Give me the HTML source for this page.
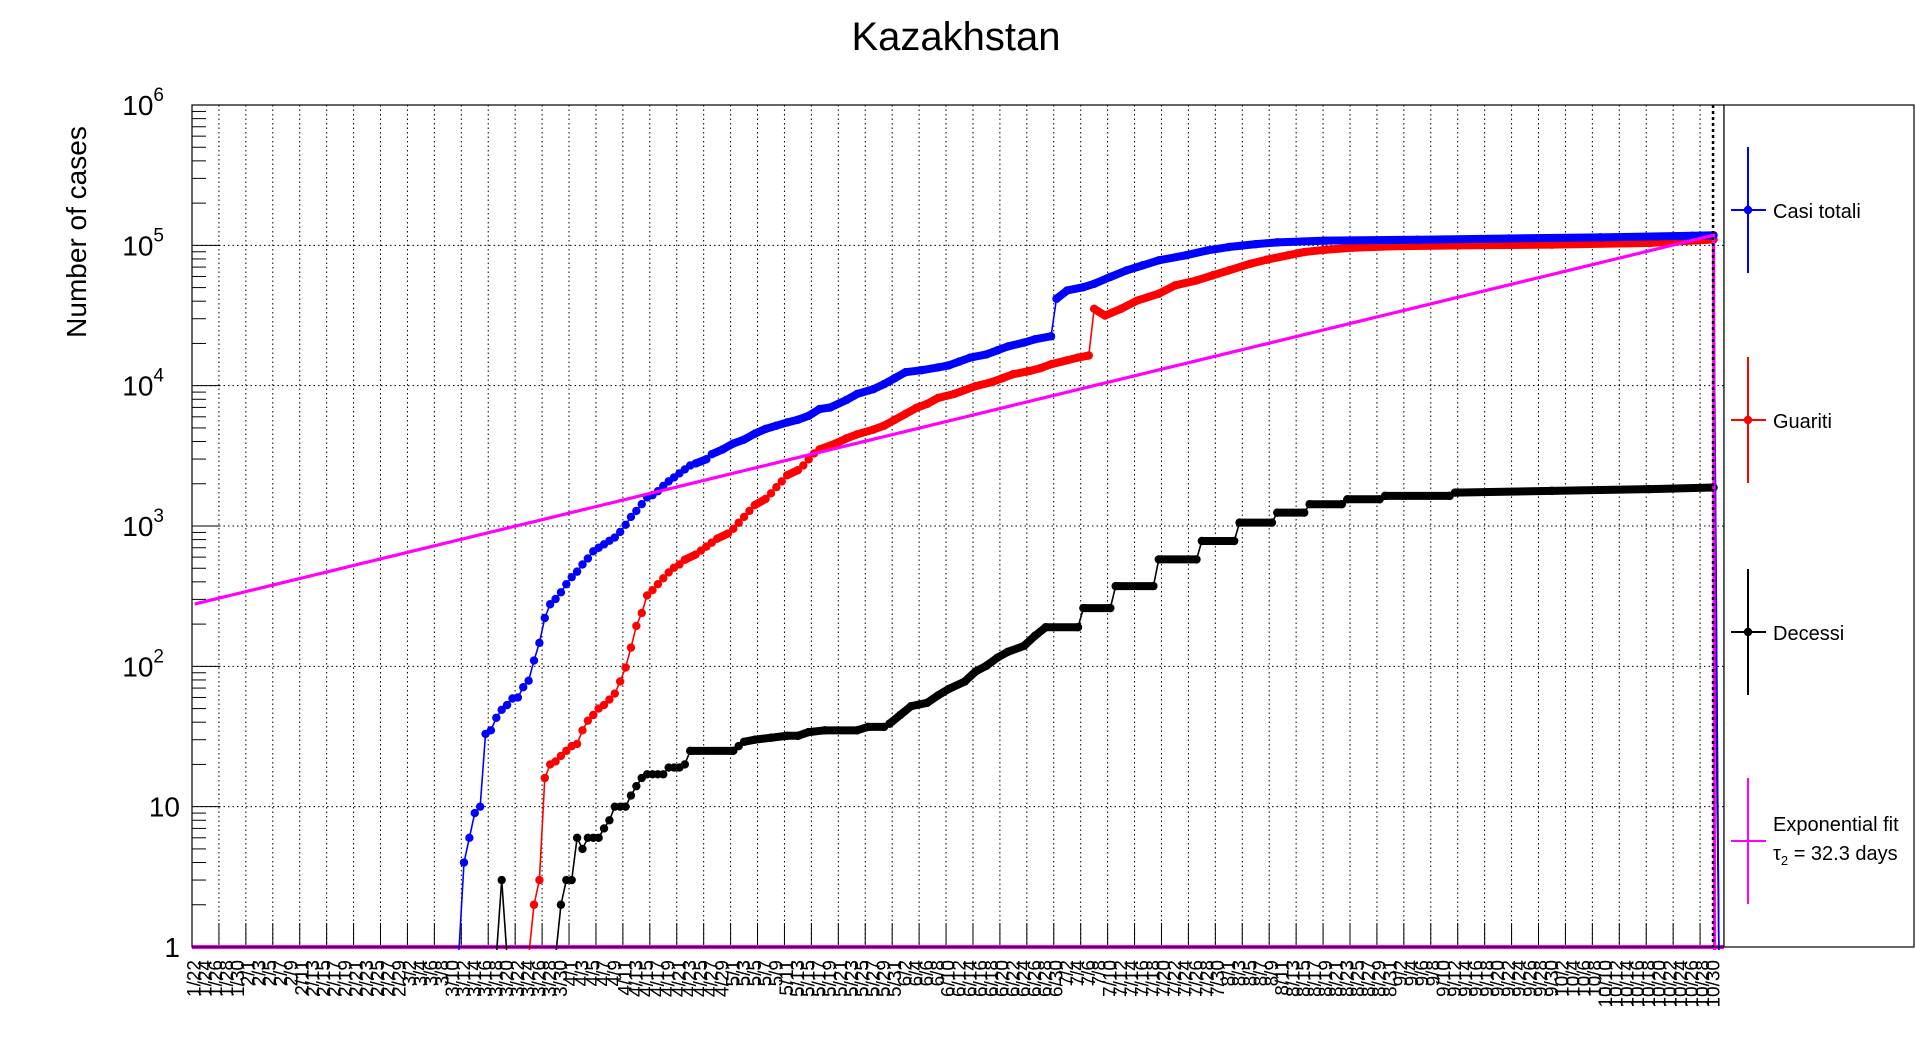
<!DOCTYPE html>
<html><head><meta charset="utf-8"><title>Kazakhstan</title>
<style>
html,body{margin:0;padding:0;background:#fff;}
svg{display:block;font-family:"Liberation Sans",Arial,sans-serif;}
</style></head>
<body>
<svg id="chart" width="1916" height="1052" viewBox="0 0 1916 1052" xmlns="http://www.w3.org/2000/svg">
  <rect x="0" y="0" width="1916" height="1052" fill="#fff"/>
  <text x="956" y="50" text-anchor="middle" font-size="40">Kazakhstan</text>
  <text transform="translate(86,232) rotate(-90)" text-anchor="middle" font-size="28">Number of cases</text>
  <defs><clipPath id="plotclip"><rect x="192" y="105" width="1532" height="845"/></clipPath></defs>
  <g id="grid"></g>
  <g id="axes"></g>
  <g id="series" clip-path="url(#plotclip)"></g>
  <rect x="192" y="105" width="1532" height="842" fill="none" stroke="#000" stroke-width="1.2"/>
  <g id="legend">
    <rect x="1724" y="105" width="190" height="842" fill="#fff" stroke="#000" stroke-width="1.2"/>
  </g>
</svg>
<script>
// ---- data ----
const blueDays=[49,50,51,52,53,54,55,56,57,58,59,60,61,62,63,64,65,66,67,68,69,70,71,72,73,74,75,76,77,78,79,80,81,82,83,84,85,86,87,88,89,90,91,92,93,95,96,98,100,102,104,106,108,110,112,114,116,118,121,123,126,128,130,132,135,138,140,142,144,147,149,151,154,156,159,160,162,165,167,170,173,176,179,184,188,192,197,201,210,227,244,261,278,282,283];
const blueVals=[0,4,6,9,10,33,35,43,49,53,59,60,71,79,110,147,221,277,302,337,385,432,473,532,587,660,700,740,785,828,908,1020,1160,1280,1430,1600,1660,1770,1930,2080,2220,2370,2530,2700,2790,2990,3250,3510,3870,4130,4550,4920,5190,5470,5720,6100,6810,6990,7910,8730,9440,10260,11320,12480,12900,13500,13950,14870,15860,16710,17830,19040,20300,21390,22500,41600,47700,50300,53200,59500,66300,72000,78200,84900,92000,97300,102000,105000,108000,109700,112000,114000,117000,118000,0];
const redDays=[62,63,64,65,66,67,68,69,70,71,72,73,74,75,76,77,78,79,80,81,82,83,84,85,86,87,88,89,90,91,93,94,95,96,97,99,100,101,102,103,104,106,107,108,109,110,112,113,114,115,116,119,121,123,126,128,130,132,134,136,138,141,143,145,148,150,152,155,157,159,162,164,166,167,169,172,175,179,182,186,189,192,196,199,203,206,210,215,222,235,252,270,279,282,283];
const redVals=[0,2,3,16,20,21,23,25,27,28,35,41,45,50,53,58,64,78,98,136,194,240,320,349,385,424,467,505,532,575,626,668,713,761,812,884,955,1055,1160,1280,1410,1560,1710,1890,2080,2300,2500,2700,2980,3290,3510,3870,4210,4500,4860,5190,5720,6300,6950,7420,8170,8730,9310,9930,10600,11320,12080,12730,13300,14200,15170,15860,16400,35300,31600,35300,40400,45200,51800,56200,61100,66300,74000,79000,84900,89600,93100,96200,98400,100000,101100,103900,108500,110000,0];
const blackDays=[56,57,58,67,68,69,70,71,72,73,74,75,76,77,78,79,80,81,82,83,84,85,86,87,88,89,90,91,92,100,101,102,104,107,110,112,114,117,123,125,128,129,131,133,136,138,140,143,145,147,149,151,154,156,158,164,165,170,171,178,179,186,187,193,194,200,201,206,207,213,214,220,221,233,234,252,270,282,283];
const blackVals=[0,3,0,0,2,3,3,6,5,6,6,6,7,8,10,10,10,12,14,16,17,17,17,17,19,19,19,20,25,25,27,29,30,31,32,32,34,35,35,37,37,39,45,52,55,62,69,78,92,101,115,127,140,165,190,190,260,260,373,373,578,578,782,782,1057,1057,1245,1245,1430,1430,1550,1550,1640,1640,1730,1780,1830,1880,0];
const fitA=[278];
const fitTau=[32.3];
const fitRange=[0,282];
const yTickExp=[0,1,2,3,4,5,6];
const legendLabels=["Casi totali","Guariti","Decessi","Exponential fit"];

// ---- axes ----
const X0=192,X1=1724,Y0=947,Y1=105,DAY=5.386,DEC=140.33;
const NS='http://www.w3.org/2000/svg';
function xS(d){return X0+(d+0.5)*DAY;}
function yS(v){return v<=0?Y0+10:Y0-Math.log10(v)*DEC;}
function mk(tag,attrs,parent){const e=document.createElementNS(NS,tag);for(const k in attrs)e.setAttribute(k,attrs[k]);parent.appendChild(e);return e;}
const grid=document.getElementById('grid'),axes=document.getElementById('axes'),ser=document.getElementById('series'),leg=document.getElementById('legend');

for(let k=1;k*5*DAY+X0<X1-2;k++){
  const x=X0+k*5*DAY;
  const l=mk('line',{x1:x,y1:Y1,x2:x,y2:Y0,stroke:'#000','stroke-width':1,'stroke-dasharray':'1.5,3'},grid);
  
  
  const t=mk('line',{x1:x,y1:Y0,x2:x,y2:Y0-24,stroke:'#000','stroke-width':1},axes);
  
  
}
yTickExp.forEach(e=>{
  const y=Y0-e*DEC;
  if(e>0&&e<6){const l=mk('line',{x1:X0,y1:y,x2:X1,y2:y,stroke:'#000','stroke-width':1,'stroke-dasharray':'1.5,3'},grid);
  
  }
  const t=mk('line',{x1:X0,y1:y,x2:X0+28,y2:y,stroke:'#000','stroke-width':1},axes);
  
  
  if(e<6){for(let m=2;m<=9;m++){const ym=y-Math.log10(m)*DEC;
    const mt=mk('line',{x1:X0,y1:ym,x2:X0+14,y2:ym,stroke:'#000','stroke-width':1},axes);
    
    }}
  const tx=mk('text',{x:180,y:y+10,'text-anchor':'end','font-size':28},axes);
  
  
  if(e===0)tx.textContent='1';else if(e===1)tx.textContent='10';
  else{tx.setAttribute('x',164);tx.textContent='10';const s=mk('tspan',{dy:-14,'font-size':19},tx);s.textContent=String(e);}
});
const mdays=[31,29,31,30,31,30,31,31,30,31,30,31];
function dateOf(d){let m=0,dd=22+d;while(dd>mdays[m]){dd-=mdays[m];m++;}return (m+1)+'/'+dd;}
for(let d=0;d<=282;d+=2){
  const x=xS(d)+6;
  const t=mk('text',{transform:`translate(${x},${Y0+13}) rotate(-90)`,'text-anchor':'end','font-size':19},axes);
  
  
  t.textContent=dateOf(d);
}

function drawSeries(days,vals,color,name){
  const g=mk('g',{},ser);
  
  
  for(let i=1;i<days.length;i++){
    const gap=days[i]-days[i-1];
    const thick=gap>1.5&&!(vals[i]<=0&&vals[i-1]<=0);
    const l=mk('line',{x1:xS(days[i-1]),y1:yS(vals[i-1]),x2:xS(days[i]),y2:yS(vals[i]),stroke:color,'stroke-width':thick?8:1.6,'stroke-linecap':'round'},g);
    
    
  }
  days.forEach((d,i)=>{if(vals[i]>0){
    const c=mk('circle',{cx:xS(d),cy:yS(vals[i]),r:4.2,fill:color},g);
    
    
  }});
}
const bl=mk('line',{x1:X0,y1:Y0,x2:X1,y2:Y0,stroke:'#ff00ff','stroke-width':4},ser);


drawSeries(blackDays,blackVals,'#000','deaths');
drawSeries(redDays,redVals,'#ff0000','recovered');
drawSeries(blueDays,blueVals,'#0000ff','total-cases');
let pts=[];
for(let d=fitRange[0];d<=fitRange[1];d++){pts.push(xS(d)+','+yS(fitA[0]*Math.pow(2,d/fitTau[0])));}
pts.push(xS(fitRange[1])+1+','+(Y0+10));
const fl=mk('polyline',{points:pts.join(' '),fill:'none',stroke:'#ff00ff','stroke-width':3.2},ser);


const dv=mk('line',{x1:xS(282)-0.5,y1:Y1,x2:xS(282)-0.5,y2:Y0,stroke:'#000','stroke-width':2.5,'stroke-dasharray':'3,3'},ser);



const legColors=['#0000ff','#ff0000','#000','#ff00ff'];
const legY=[210,420,632,841];
legendLabels.forEach((lab,i)=>{
  const g=mk('g',{},leg);
  
  
  const y=legY[i],c=legColors[i];
  mk('line',{x1:1748,y1:y-63,x2:1748,y2:y+63,stroke:c,'stroke-width':2},g);
  mk('line',{x1:1731,y1:y,x2:1766,y2:y,stroke:c,'stroke-width':2},g);
  if(i<3)mk('circle',{cx:1748,cy:y,r:4.2,fill:c},g);
  const t=mk('text',{x:1773,y:i<3?y+8:y-10,'font-size':20},g);
  t.textContent=lab;
  if(i===3){const t2=mk('text',{x:1773,y:y+19,'font-size':20},g);
    t2.textContent='τ';const s=mk('tspan',{dy:5,'font-size':13},t2);s.textContent='2';
    const s2=mk('tspan',{dy:-5},t2);s2.textContent=' = 32.3 days';}
});
</script>
</body></html>
